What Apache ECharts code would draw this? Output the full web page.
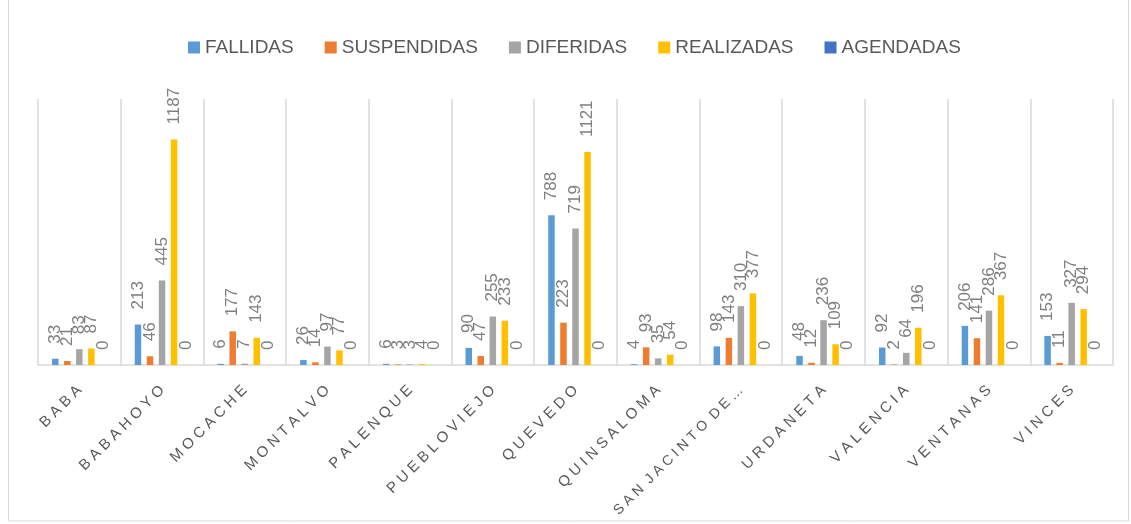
<!DOCTYPE html>
<html>
<head>
<meta charset="utf-8">
<script src="https://cdn.jsdelivr.net/npm/echarts@6/dist/echarts.min.js"></script>
<style>
html,body{margin:0;padding:0;background:#fff;}
#c{width:1131px;height:524px;}
</style>
</head>
<body>
<div id="c"></div>
<script>
const categories = ['BABA','BABAHOYO','MOCACHE','MONTALVO','PALENQUE','PUEBLOVIEJO','QUEVEDO','QUINSALOMA','SAN JACINTO DE…','URDANETA','VALENCIA','VENTANAS','VINCES'];
const fallidas    = [33, 213, 6, 26, 6, 90, 788, 4, 98, 48, 92, 206, 153];
const suspendidas = [21, 46, 177, 14, 3, 47, 223, 93, 143, 12, 2, 141, 11];
const diferidas   = [83, 445, 7, 97, 3, 255, 719, 35, 310, 236, 64, 286, 327];
const realizadas  = [87, 1187, 143, 77, 4, 233, 1121, 54, 377, 109, 196, 367, 294];
const agendadas   = [0, 0, 0, 0, 0, 0, 0, 0, 0, 0, 0, 0, 0];

const seriesNames = ['FALLIDAS','SUSPENDIDAS','DIFERIDAS','REALIZADAS','AGENDADAS'];
const seriesData = [fallidas, suspendidas, diferidas, realizadas, agendadas];
const colors = ['#5B9BD5','#ED7D31','#A5A5A5','#FFC000','#4472C4'];

const FONT = "'Liberation Sans', Arial, sans-serif";

const catData = categories.map(c => c.length > 12
  ? {value: c, textStyle: {fontSize: 14}}
  : c);

const chart = echarts.init(document.getElementById('c'), null, {renderer:'canvas'});
chart.setOption({
  animation: false,
  color: colors,
  graphic: [{
    type: 'rect', silent: true, z: -10,
    shape: {x: 8.5, y: -5, width: 1120, height: 526},
    style: {fill: 'none', stroke: '#d9d9d9', lineWidth: 1}
  }],
  legend: {
    top: 33, left: 183,
    itemWidth: 12, itemHeight: 12, itemGap: 31,
    icon: 'rect',
    textStyle: {color: '#595959', fontSize: 19, fontFamily: FONT},
    data: seriesNames
  },
  grid: {left: 38, right: 18, top: 99, bottom: 159, containLabel: false, outerBoundsMode: 'none'},
  xAxis: {
    type: 'category',
    data: catData,
    boundaryGap: true,
    axisLine: {lineStyle: {color: '#d9d9d9', width: 1.5}},
    axisTick: {show: false},
    splitLine: {show: true, lineStyle: {color: '#d9d9d9', width: 1.5}},
    axisLabel: {
      interval: 0, rotate: 45, margin: 23,
      color: '#595959', fontSize: 15, fontFamily: FONT,
      formatter: v => Array.from(v).map(ch => ch === ' ' ? '' : ch).join(' ')
    }
  },
  yAxis: {
    type: 'value', min: 0, max: 1400, interval: 200,
    show: false,
    splitLine: {show: false}
  },
  series: seriesNames.map((name, i) => ({
    name: name,
    type: 'bar',
    data: seriesData[i],
    barWidth: 6.5,
    barGap: '85%',
    itemStyle: {color: colors[i]},
    label: {
      show: true, position: 'top', rotate: 90,
      align: 'left', verticalAlign: 'middle', distance: 15,
      color: '#7f7f7f', fontSize: 17, fontFamily: FONT
    }
  }))
});
</script>
</body>
</html>
